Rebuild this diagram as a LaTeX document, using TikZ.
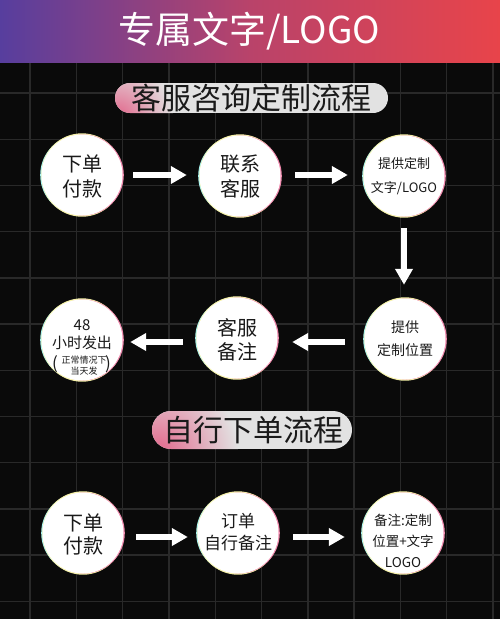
\documentclass[tikz,border=0pt]{standalone}
\usepackage{fontspec}
\setmainfont{Noto Sans CJK SC}
\usetikzlibrary{arrows.meta}
\definecolor{bg}{HTML}{0A0A0A}
\definecolor{gridc}{HTML}{292929}
\definecolor{hpurple}{HTML}{573E9E}
\definecolor{hmid}{HTML}{B9436A}
\definecolor{hred}{HTML}{E8444A}
\definecolor{txt}{HTML}{1A1A1A}
\definecolor{pillgray}{HTML}{E2E2E2}
\definecolor{pillpink}{HTML}{E2688C}
\definecolor{fcyan}{HTML}{A8F4F0}
\definecolor{fyellow}{HTML}{F6F2A8}
\definecolor{fmag}{HTML}{F08AAE}
\newcommand{\fs}[2]{\fontsize{#1}{#2}\selectfont}
\begin{document}
\begin{tikzpicture}[x=1pt,y=-1pt,
  circ/.style={circle, fill=white, minimum size=81pt, inner sep=0pt,
    preaction={fill=fcyan, transform canvas={xshift=-1.3pt}},
    preaction={fill=fyellow, transform canvas={yshift=1.2pt}},
    preaction={fill=fyellow, transform canvas={yshift=-1.2pt}},
    preaction={fill=fmag, transform canvas={xshift=1.3pt}}},
  ctext/.style={text=txt, align=center, inner sep=0pt},
  flow/.style={draw=white, line width=6pt, -{Triangle[width=17pt,length=16pt]}},
]
\useasboundingbox (0,0) rectangle (500,619);
\fill[bg] (0,0) rectangle (500,619);
% grid
\foreach \i in {0,...,10} \draw[gridc, line width=1.4pt] ({30+46.3*\i},0) -- ({30+46.3*\i},619);
\foreach \j in {0,...,11} \draw[gridc, line width=1.4pt] (0,{93+46.2*\j}) -- (500,{93+46.2*\j});
% header
\shade[left color=hpurple, right color=hred, middle color=hmid] (0,0) rectangle (500,62);
\node[text=white, inner sep=0pt, font=\fs{37}{37}] (title) at (249,31) {专属文字/LOGO};
% section pills
\begin{scope}
  \clip[rounded corners=15pt] (115,83) rectangle (388,113);
  \fill[pillgray] (115,83) rectangle (388,113);
  \shade[inner color=pillpink, outer color=pillgray] (118,116) circle (55);
\end{scope}
\node[text=txt, inner sep=0pt, font=\fs{30}{30}] (p1) at (251.5,98) {客服咨询定制流程};
\begin{scope}
  \clip[rounded corners=19pt] (152,411) rectangle (352,449);
  \fill[pillgray] (152,411) rectangle (352,449);
  \shade[inner color=pillpink, outer color=pillgray] (158,452) circle (80);
\end{scope}
\node[text=txt, inner sep=0pt, font=\fs{30}{30}] (p2) at (253,430) {自行下单流程};
% circles
\node[circ] (c1) at (82,175) {};
\node[circ] (c2) at (240,176) {};
\node[circ] (c3) at (404,176) {};
\node[circ] (c4) at (405,339) {};
\node[circ] (c5) at (237,338) {};
\node[circ] (c6) at (82,340) {};
\node[circ] (c7) at (83,533) {};
\node[circ] (c8) at (238,533) {};
\node[circ] (c9) at (403,533) {};
% circle texts
\node[ctext, font=\fs{20}{25}] (t1) at (82,176) {下单\\付款};
\node[ctext, font=\fs{20}{25}] (t2) at (240,176) {联系\\客服};
\node[ctext, font=\fs{13}{24}] (t3) at (404,176) {提供定制\\文字/LOGO};
\node[ctext, font=\fs{14}{23}] (t4) at (405,339) {提供\\定制位置};
\node[ctext, font=\fs{20}{24}] (t5) at (237,340) {客服\\备注};
\node[ctext, font=\fs{15}{15}] (t6a) at (82,325) {48};
\node[ctext, font=\fs{15}{15}] (t6b) at (82,343) {小时发出};
\node[ctext, font=\fs{9}{9}] (t6c) at (84,360) {正常情况下};
\node[ctext, font=\fs{9}{9}] (t6d) at (84,371) {当天发};
\node[ctext, font=\fs{17}{17}] (t6l) at (55,364) {(};
\node[ctext, font=\fs{17}{17}] (t6r) at (108,364) {)};
\node[ctext, font=\fs{20}{23}] (t7) at (83,534) {下单\\付款};
\node[ctext, font=\fs{17}{22}] (t8) at (238,532) {订单\\自行备注};
\node[ctext, font=\fs{13.5}{21}] (t9) at (403,541) {备注:定制\\位置+文字\\LOGO};
% arrows
\draw[flow, shorten <=10.5pt, shorten >=12.5pt] (c1.east) -- (c1.east -| c2.west);
\draw[flow, shorten <=14.5pt, shorten >=15.5pt] ([yshift=1pt]c2.east) -- ([yshift=1pt]c2.east -| c3.west);
\draw[flow, shorten <=11.5pt, shorten >=13.5pt] (c3.south) -- (c3.south |- c4.north);
\draw[flow, shorten <=19.5pt, shorten >=14.5pt] ([yshift=-3pt]c4.west) -- ([yshift=-3pt]c4.west -| c5.east);
\draw[flow, shorten <=13.5pt, shorten >=7.5pt] ([yshift=-4pt]c5.west) -- ([yshift=-4pt]c5.west -| c6.east);
\draw[flow, shorten <=12.5pt, shorten >=9.5pt] ([yshift=-4pt]c7.east) -- ([yshift=-4pt]c7.east -| c8.west);
\draw[flow, shorten <=14.5pt, shorten >=17.5pt] ([yshift=-4pt]c8.east) -- ([yshift=-4pt]c8.east -| c9.west);
\end{tikzpicture}
\end{document}
